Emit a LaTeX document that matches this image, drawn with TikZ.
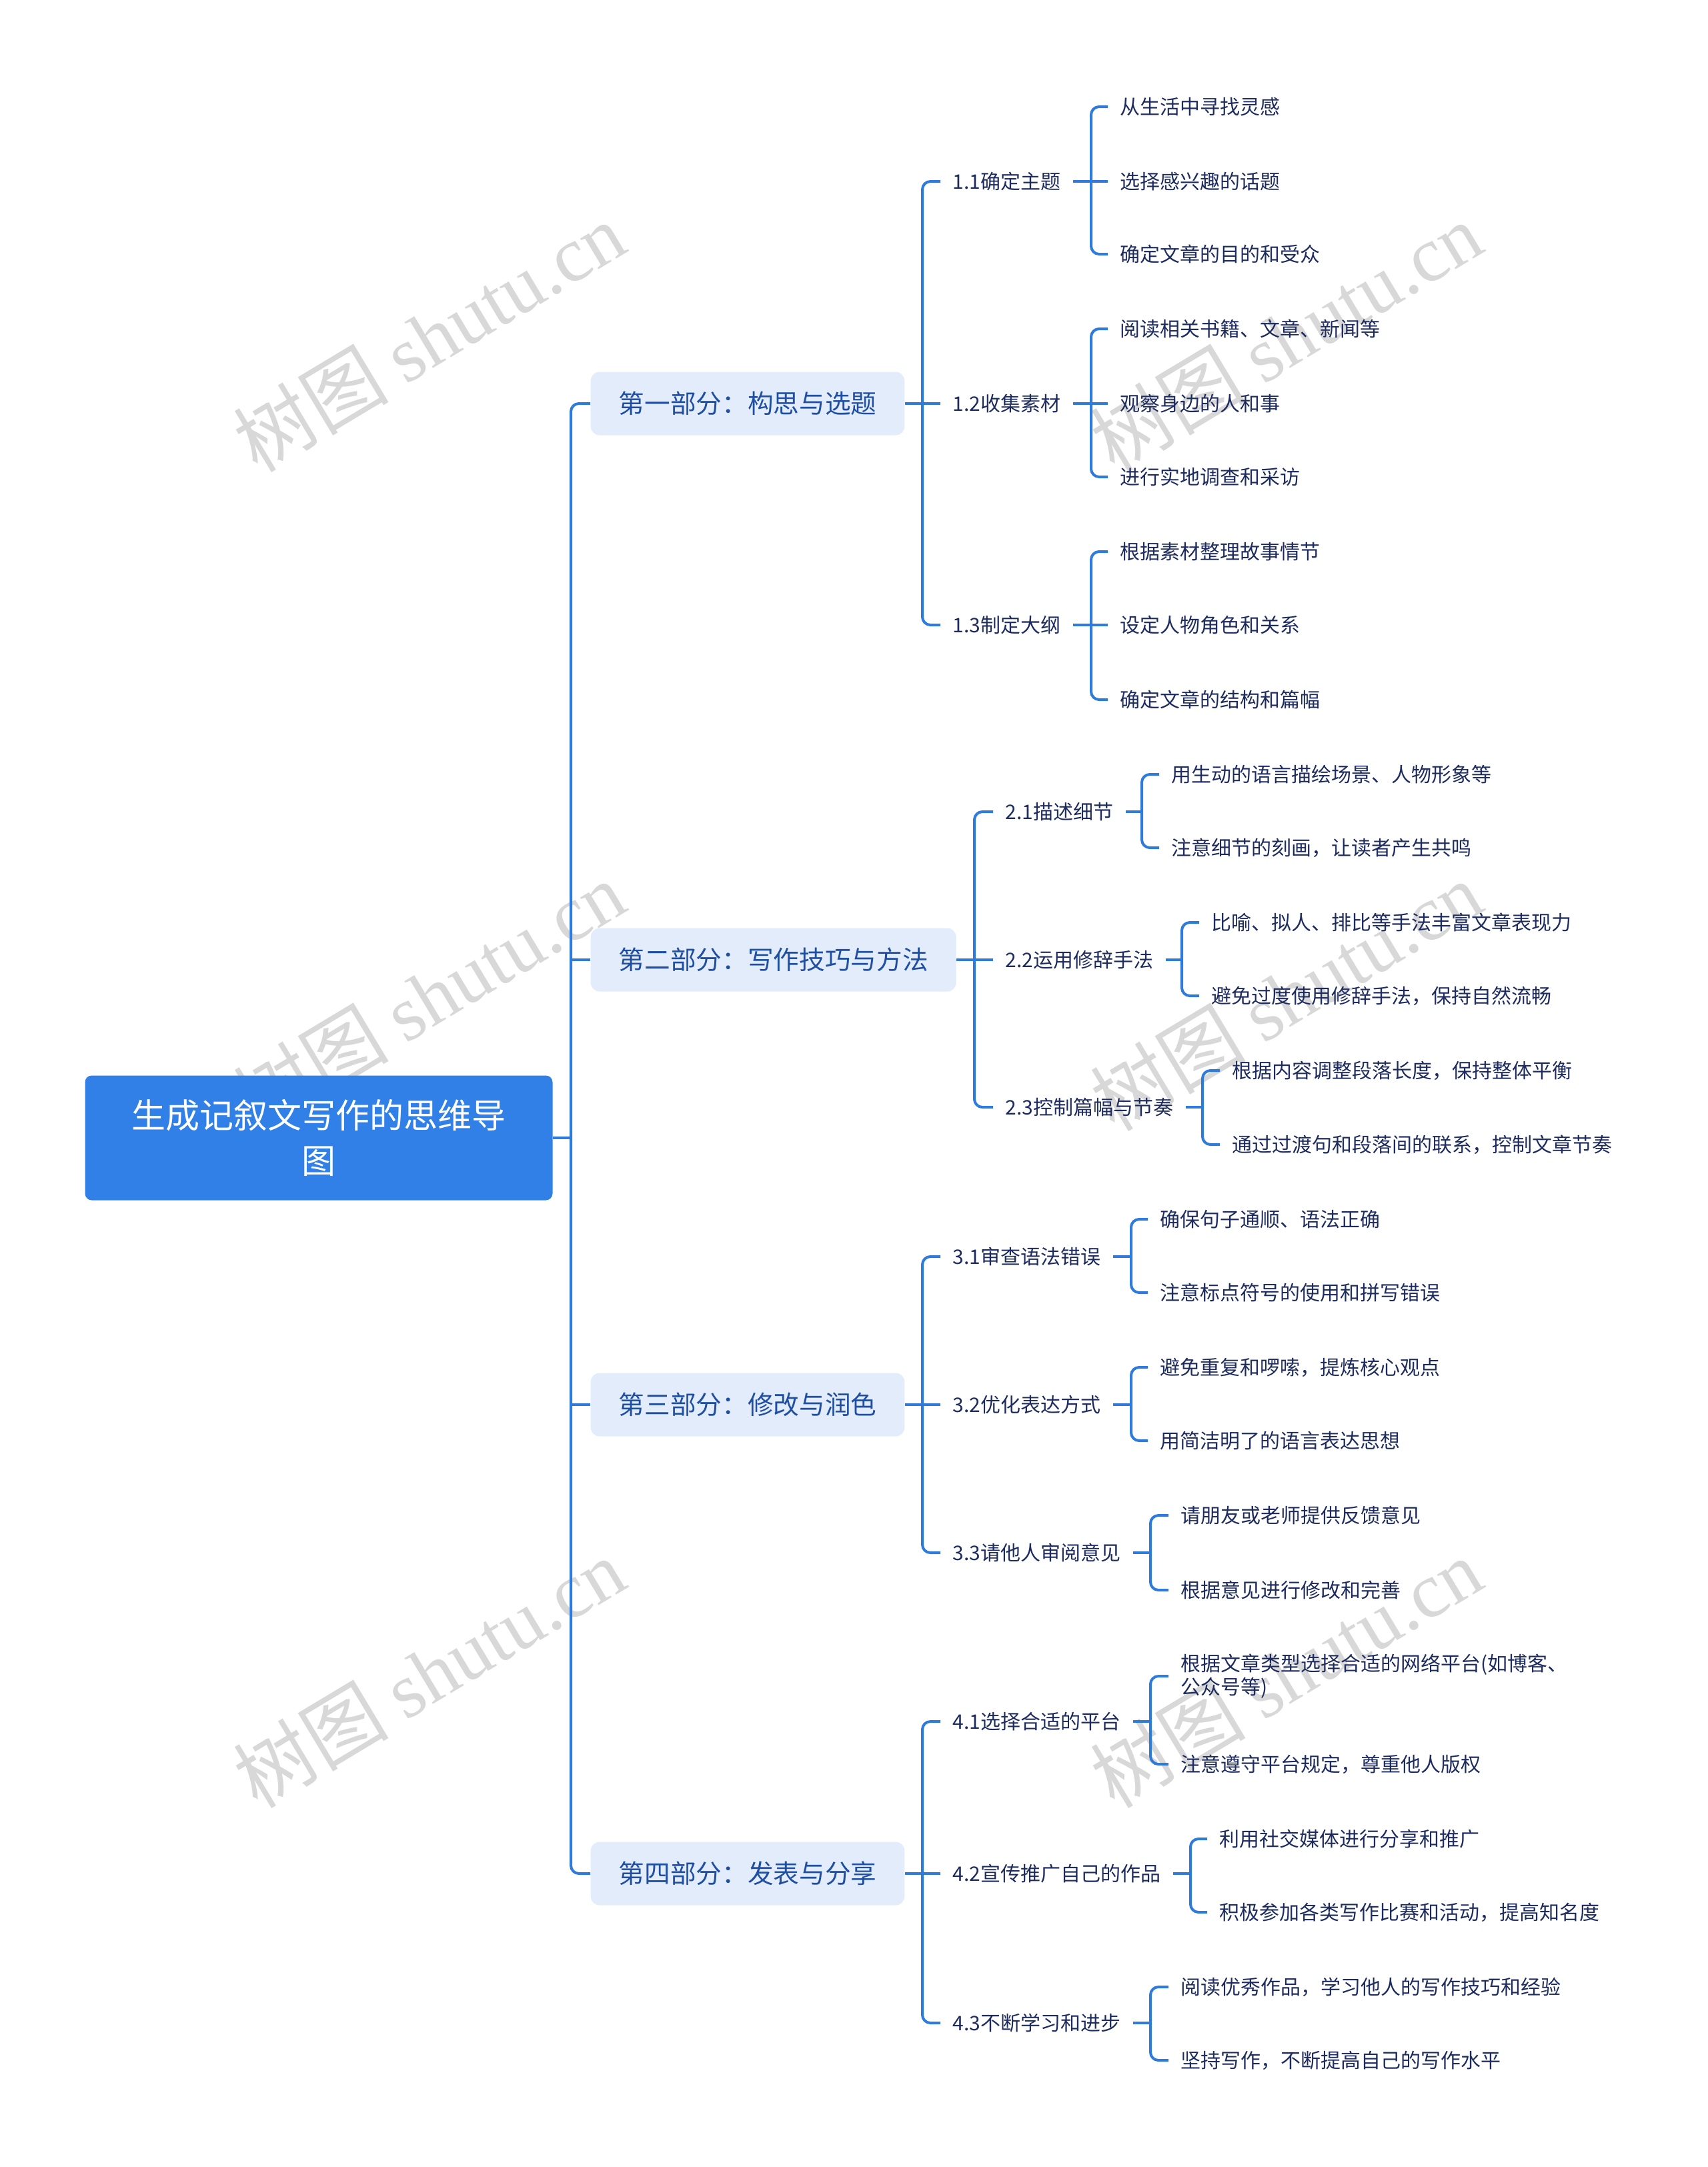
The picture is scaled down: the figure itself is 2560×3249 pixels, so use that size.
\documentclass[tikz,border=0pt]{standalone}
\usepackage{fontspec}
\setmainfont{Noto Sans CJK SC}
\newfontfamily\wmlat{Liberation Serif}
\definecolor{linec}{HTML}{2E7BDB}
\definecolor{rootc}{HTML}{3080E8}
\definecolor{lonec}{HTML}{E3ECFB}
\definecolor{lonet}{HTML}{1F4FA3}
\definecolor{leaft}{HTML}{1D2B5E}
\definecolor{wmc}{HTML}{D8D8D8}
\begin{document}
\begin{tikzpicture}[x=0.3pt,y=-0.3pt,
  rootbox/.style={fill=rootc, rounded corners=3pt, text=white, align=center,
    font=\fontsize{15.3pt}{20.5pt}\selectfont, minimum width=210.3pt, minimum height=56.1pt, inner sep=0pt},
  lone/.style={fill=lonec, rounded corners=4pt, text=lonet, font=\fontsize{11.6pt}{14pt}\selectfont,
    minimum height=28.5pt, inner xsep=12.6pt, inner ysep=0pt, anchor=west},
  ltwo/.style={text=leaft, font=\fontsize{9pt}{10.5pt}\selectfont, inner xsep=5.4pt, inner ysep=2pt, anchor=west},
  leaf/.style={text=leaft, font=\fontsize{9pt}{10.5pt}\selectfont, inner xsep=5.4pt, inner ysep=2pt, anchor=west, align=left},
  conn/.style={draw=linec, line width=1.2pt, rounded corners=3.6pt},
  wm/.style={text=wmc, rotate=31, font=\fontsize{35pt}{37pt}\selectfont, inner sep=0pt}]
\useasboundingbox (0,0) rectangle (2560,3249);
% watermarks
\node[wm] (w1) at (643,505) {树图 {\wmlat shutu.cn}};
\node[wm] (w2) at (1928,505) {树图 {\wmlat shutu.cn}};
\node[wm] (w3) at (643,1493) {树图 {\wmlat shutu.cn}};
\node[wm] (w4) at (1928,1493) {树图 {\wmlat shutu.cn}};
\node[wm] (w5) at (643,2508) {树图 {\wmlat shutu.cn}};
\node[wm] (w6) at (1928,2508) {树图 {\wmlat shutu.cn}};
% root
\node[rootbox] (root) at (478,1706) {生成记叙文写作的思维导\\图};
% level 1
\node[lone] (p1) at (885,605) {第一部分：构思与选题};
\node[lone] (p2) at (885,1439) {第二部分：写作技巧与方法};
\node[lone] (p3) at (885,2106) {第三部分：修改与润色};
\node[lone] (p4) at (885,2809) {第四部分：发表与分享};
% level 2
\node[ltwo] (a1) at (1410,272) {1.1确定主题};
\node[ltwo] (a2) at (1410,605) {1.2收集素材};
\node[ltwo] (a3) at (1410,937) {1.3制定大纲};
\node[ltwo] (b1) at (1489,1217) {2.1描述细节};
\node[ltwo] (b2) at (1489,1439) {2.2运用修辞手法};
\node[ltwo] (b3) at (1489,1660) {2.3控制篇幅与节奏};
\node[ltwo] (c1) at (1410,1884) {3.1审查语法错误};
\node[ltwo] (c2) at (1410,2106) {3.2优化表达方式};
\node[ltwo] (c3) at (1410,2328) {3.3请他人审阅意见};
\node[ltwo] (d1) at (1410,2581) {4.1选择合适的平台};
\node[ltwo] (d2) at (1410,2809) {4.2宣传推广自己的作品};
\node[ltwo] (d3) at (1410,3033) {4.3不断学习和进步};
% leaves
\node[leaf] (a11) at (1661,160) {从生活中寻找灵感};
\node[leaf] (a12) at (1661,272) {选择感兴趣的话题};
\node[leaf] (a13) at (1661,381) {确定文章的目的和受众};
\node[leaf] (a21) at (1661,493) {阅读相关书籍、文章、新闻等};
\node[leaf] (a22) at (1661,605) {观察身边的人和事};
\node[leaf] (a23) at (1661,715) {进行实地调查和采访};
\node[leaf] (a31) at (1661,827) {根据素材整理故事情节};
\node[leaf] (a32) at (1661,937) {设定人物角色和关系};
\node[leaf] (a33) at (1661,1049) {确定文章的结构和篇幅};
\node[leaf] (b11) at (1738,1161) {用生动的语言描绘场景、人物形象等};
\node[leaf] (b12) at (1738,1271) {注意细节的刻画，让读者产生共鸣};
\node[leaf] (b21) at (1798,1383) {比喻、拟人、排比等手法丰富文章表现力};
\node[leaf] (b22) at (1798,1493) {避免过度使用修辞手法，保持自然流畅};
\node[leaf] (b31) at (1829,1605) {根据内容调整段落长度，保持整体平衡};
\node[leaf] (b32) at (1829,1716) {通过过渡句和段落间的联系，控制文章节奏};
\node[leaf] (c11) at (1721,1828) {确保句子通顺、语法正确};
\node[leaf] (c12) at (1721,1938) {注意标点符号的使用和拼写错误};
\node[leaf] (c21) at (1721,2050) {避免重复和啰嗦，提炼核心观点};
\node[leaf] (c22) at (1721,2160) {用简洁明了的语言表达思想};
\node[leaf] (c31) at (1752,2272) {请朋友或老师提供反馈意见};
\node[leaf] (c32) at (1752,2384) {根据意见进行修改和完善};
\node[leaf] (d11) at (1752,2513) {根据文章类型选择合适的网络平台(如博客、\\公众号等)};
\node[leaf] (d12) at (1752,2645) {注意遵守平台规定，尊重他人版权};
\node[leaf] (d21) at (1810,2757) {利用社交媒体进行分享和推广};
\node[leaf] (d22) at (1810,2867) {积极参加各类写作比赛和活动，提高知名度};
\node[leaf] (d31) at (1752,2979) {阅读优秀作品，学习他人的写作技巧和经验};
\node[leaf] (d32) at (1752,3089) {坚持写作，不断提高自己的写作水平};
% junction coordinates
\coordinate (t) at (856,1706);
\coordinate (v1) at (1383,605);
\coordinate (v2) at (1461,1439);
\coordinate (v3) at (1383,2106);
\coordinate (v4) at (1383,2809);
\coordinate (va1) at (1636,272);
\coordinate (va2) at (1636,605);
\coordinate (va3) at (1636,937);
\coordinate (vb1) at (1712,1217);
\coordinate (vb2) at (1772,1439);
\coordinate (vb3) at (1803,1660);
\coordinate (vc1) at (1696,1884);
\coordinate (vc2) at (1696,2106);
\coordinate (vc3) at (1725,2328);
\coordinate (vd1) at (1725,2581);
\coordinate (vd2) at (1785,2809);
\coordinate (vd3) at (1725,3033);
% trunk
\draw[conn] (root.east) -- (t);
\draw[conn] (p1.west) -| (t) |- (p4.west);
\draw[conn] (p2.west) -- (p2.west -| t);
\draw[conn] (p3.west) -- (p3.west -| t);
% level1 -> level2
\draw[conn] (p1.east) -- (p1.east -| v1);
\draw[conn] (a1.west) -| (v1) |- (a3.west);
\draw[conn] (v1) -- (a2.west);
\draw[conn] (p2.east) -- (p2.east -| v2);
\draw[conn] (b1.west) -| (v2) |- (b3.west);
\draw[conn] (v2) -- (b2.west);
\draw[conn] (p3.east) -- (p3.east -| v3);
\draw[conn] (c1.west) -| (v3) |- (c3.west);
\draw[conn] (v3) -- (c2.west);
\draw[conn] (p4.east) -- (p4.east -| v4);
\draw[conn] (d1.west) -| (v4) |- (d3.west);
\draw[conn] (v4) -- (d2.west);
% level2 -> leaves (three children)
\draw[conn] (a1.east) -- (a1.east -| va1);
\draw[conn] (a11.west) -| (va1) |- (a13.west);
\draw[conn] (va1) -- (a12.west);
\draw[conn] (a2.east) -- (a2.east -| va2);
\draw[conn] (a21.west) -| (va2) |- (a23.west);
\draw[conn] (va2) -- (a22.west);
\draw[conn] (a3.east) -- (a3.east -| va3);
\draw[conn] (a31.west) -| (va3) |- (a33.west);
\draw[conn] (va3) -- (a32.west);
% two children
\draw[conn] (b1.east) -- (b1.east -| vb1);
\draw[conn] (b11.west) -| (vb1) |- (b12.west);
\draw[conn] (b2.east) -- (b2.east -| vb2);
\draw[conn] (b21.west) -| (vb2) |- (b22.west);
\draw[conn] (b3.east) -- (b3.east -| vb3);
\draw[conn] (b31.west) -| (vb3) |- (b32.west);
\draw[conn] (c1.east) -- (c1.east -| vc1);
\draw[conn] (c11.west) -| (vc1) |- (c12.west);
\draw[conn] (c2.east) -- (c2.east -| vc2);
\draw[conn] (c21.west) -| (vc2) |- (c22.west);
\draw[conn] (c3.east) -- (c3.east -| vc3);
\draw[conn] (c31.west) -| (vc3) |- (c32.west);
\draw[conn] (d1.east) -- (d1.east -| vd1);
\draw[conn] (d11.west) -| (vd1) |- (d12.west);
\draw[conn] (d2.east) -- (d2.east -| vd2);
\draw[conn] (d21.west) -| (vd2) |- (d22.west);
\draw[conn] (d3.east) -- (d3.east -| vd3);
\draw[conn] (d31.west) -| (vd3) |- (d32.west);
\end{tikzpicture}
\end{document}
